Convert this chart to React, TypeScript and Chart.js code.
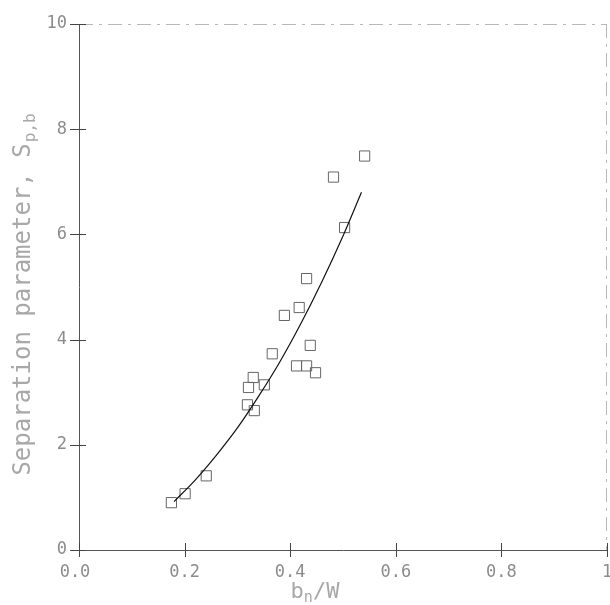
import React, { useEffect, useRef } from 'react';
import { Chart, registerables } from 'chart.js';

Chart.register(...registerables);

// Axis ticks
const xTickValues = [0, 0.2, 0.4, 0.6, 0.8, 1.0];
const xTickLabels = ['0.0', '0.2', '0.4', '0.6', '0.8', '1'];
const yTickValues = [0, 2, 4, 6, 8, 10];
const yTickLabels = ['0', '2', '4', '6', '8', '10'];

// Measured points (squares)
const measuredX = [0.175, 0.201, 0.241, 0.319, 0.332, 0.321, 0.330, 0.351, 0.366, 0.389, 0.417, 0.431, 0.412, 0.431, 0.438, 0.448, 0.503, 0.482, 0.541];
const measuredY = [0.90, 1.07, 1.41, 2.76, 2.65, 3.09, 3.28, 3.14, 3.73, 4.46, 4.61, 5.16, 3.50, 3.50, 3.89, 3.37, 6.13, 7.09, 7.49];

// Fitted curve
const curveX = [0.18, 0.22, 0.26, 0.30, 0.34, 0.38, 0.42, 0.46, 0.50, 0.535];
const curveY = [0.92, 1.33, 1.80, 2.32, 2.92, 3.57, 4.30, 5.10, 5.97, 6.80];

const xTitleMain = 'b';
const xTitleSub = 'n';
const xTitleTail = '/W';
const yTitleMain = 'Separation parameter, S';
const yTitleSub = 'p,b';

const FONT = '"DejaVu Sans Mono", monospace';

const decorPlugin = {
  id: 'decor',
  afterDraw(chart: any) {
    const { ctx, chartArea, scales } = chart;
    const { left, right, top, bottom } = chartArea;
    ctx.save();
    // frame top and right (faint, broken)
    ctx.strokeStyle = '#b8b8b8';
    ctx.lineWidth = 1;
    ctx.setLineDash([14, 6, 3, 6]);
    ctx.beginPath();
    ctx.moveTo(left, top + 0.5);
    ctx.lineTo(right, top + 0.5);
    ctx.moveTo(right - 0.5, top);
    ctx.lineTo(right - 0.5, bottom);
    ctx.stroke();
    ctx.setLineDash([]);

    // crossing tick marks
    ctx.strokeStyle = '#444';
    ctx.lineWidth = 1;
    ctx.beginPath();
    xTickValues.forEach((v) => {
      const px = Math.round(scales.x.getPixelForValue(v)) + 0.5;
      ctx.moveTo(px, bottom - 7);
      ctx.lineTo(px, bottom + 7);
    });
    yTickValues.forEach((v) => {
      const py = Math.round(scales.y.getPixelForValue(v)) + 0.5;
      ctx.moveTo(left - 9, py);
      ctx.lineTo(left + 7, py);
    });
    ctx.stroke();

    // x tick labels
    ctx.fillStyle = '#8c8c8c';
    ctx.font = `17px ${FONT}`;
    ctx.textAlign = 'center';
    ctx.textBaseline = 'top';
    xTickValues.forEach((v, i) => {
      const px = scales.x.getPixelForValue(v);
      ctx.fillText(xTickLabels[i], i === 0 ? px - 4 : px, bottom + 14);
    });

    // y title with subscript
    ctx.fillStyle = '#a8a8a8';
    ctx.textBaseline = 'alphabetic';
    ctx.save();
    ctx.translate(30, (top + bottom) / 2 + 8);
    ctx.rotate(-Math.PI / 2);
    ctx.font = `24px ${FONT}`;
    const w1 = ctx.measureText(yTitleMain).width;
    ctx.font = `16px ${FONT}`;
    const w2 = ctx.measureText(yTitleSub).width;
    const total = w1 + w2;
    ctx.font = `24px ${FONT}`;
    ctx.textAlign = 'left';
    ctx.fillText(yTitleMain, -total / 2, 0);
    ctx.font = `16px ${FONT}`;
    ctx.fillText(yTitleSub, -total / 2 + w1 + 1, 5);
    ctx.restore();

    // x title with subscript
    ctx.save();
    ctx.font = `22px ${FONT}`;
    const a = ctx.measureText(xTitleMain).width;
    const c = ctx.measureText(xTitleTail).width;
    ctx.font = `15px ${FONT}`;
    const b = ctx.measureText(xTitleSub).width;
    const tot = a + b + c;
    const cx = (left + right) / 2 - 28;
    const by = 598;
    ctx.textAlign = 'left';
    ctx.font = `22px ${FONT}`;
    ctx.fillText(xTitleMain, cx - tot / 2, by);
    ctx.font = `15px ${FONT}`;
    ctx.fillText(xTitleSub, cx - tot / 2 + a, by + 4);
    ctx.font = `22px ${FONT}`;
    ctx.fillText(xTitleTail, cx - tot / 2 + a + b, by);
    ctx.restore();

    ctx.restore();
  },
};

export default function App() {
  const canvasRef = useRef<HTMLCanvasElement | null>(null);

  useEffect(() => {
    document.body.style.margin = '0';
    const canvas = canvasRef.current;
    if (!canvas) return;
    const chart = new Chart(canvas, {
      type: 'scatter',
      data: {
        datasets: [
          {
            type: 'line',
            label: 'fit',
            data: curveX.map((x, i) => ({ x, y: curveY[i] })),
            borderColor: '#111',
            borderWidth: 1.2,
            pointRadius: 0,
            showLine: true,
            fill: false,
            cubicInterpolationMode: 'monotone',
          } as any,
          {
            label: 'measured',
            data: measuredX.map((x, i) => ({ x, y: measuredY[i] })),
            pointStyle: 'rect',
            pointRadius: 7.2,
            pointBorderWidth: 1,
            pointBorderColor: '#666',
            pointBackgroundColor: 'rgba(0,0,0,0)',
            backgroundColor: 'rgba(0,0,0,0)',
            borderColor: '#666',
          },
        ],
      },
      options: {
        animation: false,
        responsive: false,
        maintainAspectRatio: false,
        layout: { autoPadding: false, padding: { top: 24, right: 3, left: 0, bottom: 0 } },
        plugins: {
          legend: { display: false },
          tooltip: { enabled: false },
          title: { display: false },
        },
        scales: {
          x: {
            type: 'linear',
            min: 0,
            max: 1,
            afterBuildTicks: (scale: any) => {
              scale.ticks = xTickValues.map((v) => ({ value: v }));
            },
            afterFit: (scale: any) => {
              scale.height = 55;
              scale.paddingLeft = 0;
              scale.paddingRight = 0;
            },
            grid: { display: false, drawTicks: false },
            border: { display: true, color: '#555', width: 1 },
            ticks: { display: false },
          },
          y: {
            type: 'linear',
            min: 0,
            max: 10,
            afterBuildTicks: (scale: any) => {
              scale.ticks = yTickValues.map((v) => ({ value: v }));
            },
            afterFit: (scale: any) => {
              scale.width = 79;
              scale.paddingTop = 0;
              scale.paddingBottom = 0;
            },
            grid: { display: false, drawTicks: false },
            border: { display: true, color: '#555', width: 1 },
            ticks: {
              padding: 12,
              color: '#8c8c8c',
              font: { family: FONT, size: 17 },
              autoSkip: false,
              callback: (_v: any, i: number) => yTickLabels[i],
            },
          },
        },
      },
      plugins: [decorPlugin],
    });
    return () => chart.destroy();
  }, []);

  return (
    <div style={{ width: 610, height: 605, background: '#fff' }}>
      <canvas ref={canvasRef} width={610} height={605} style={{ display: 'block' }} />
    </div>
  );
}
